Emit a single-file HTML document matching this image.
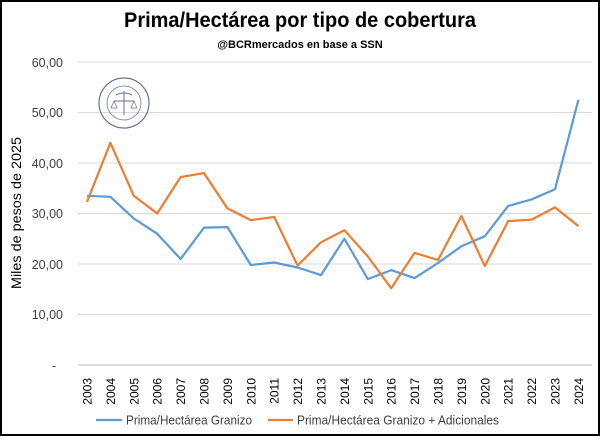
<!DOCTYPE html>
<html><head><style>
body{margin:0;width:600px;height:436px;overflow:hidden;background:#fff}
</style></head><body>
<svg width="600" height="436" xmlns="http://www.w3.org/2000/svg" font-family="Liberation Sans, sans-serif">
<rect x="1" y="1" width="598" height="434" fill="#fff" stroke="#000" stroke-width="2"/>
<text x="300" y="27" text-anchor="middle" font-size="21" font-weight="bold" textLength="352" lengthAdjust="spacingAndGlyphs">Prima/Hectárea por tipo de cobertura</text>
<text x="300" y="48" text-anchor="middle" font-size="11" font-weight="bold">@BCRmercados en base a SSN</text>
<g stroke="#d9d9d9" stroke-width="1">
<line x1="78" x2="592" y1="62" y2="62"/><line x1="78" x2="592" y1="112.5" y2="112.5"/><line x1="78" x2="592" y1="163" y2="163"/><line x1="78" x2="592" y1="213.5" y2="213.5"/><line x1="78" x2="592" y1="264" y2="264"/><line x1="78" x2="592" y1="314.5" y2="314.5"/>
</g>
<line x1="78" x2="592" y1="365" y2="365" stroke="#bfbfbf"/>
<g font-size="12.5" fill="#404040" text-anchor="end">
<text x="63" y="67">60,00</text><text x="63" y="117">50,00</text><text x="63" y="168">40,00</text><text x="63" y="218">30,00</text><text x="63" y="269">20,00</text><text x="63" y="319">10,00</text><text x="56" y="370">-</text>
</g>
<text transform="translate(21,213) rotate(-90)" text-anchor="middle" font-size="13.5" font-weight="500" fill="#000" textLength="152" lengthAdjust="spacingAndGlyphs">Miles de pesos de 2025</text>
<g transform="translate(124,103)" fill="none" stroke="#6b7390">
<circle r="25" stroke-width="1.2"/><circle r="17" stroke-width="0.8"/>
<line x1="0" y1="-12" x2="0" y2="12"/><line x1="-10" y1="-2" x2="10" y2="-2"/>
<path d="M-10 -2 l-3 7 h6 z M10 -2 l-3 7 h6 z" stroke-width="0.7"/>
<path d="M-8 -8 q8 -4 16 0" />
</g>
<g font-size="12" fill="#000" text-anchor="end">
<text transform="translate(91.5,378) rotate(-90)">2003</text><text transform="translate(114.9,378) rotate(-90)">2004</text><text transform="translate(138.3,378) rotate(-90)">2005</text><text transform="translate(161.7,378) rotate(-90)">2006</text><text transform="translate(185.1,378) rotate(-90)">2007</text><text transform="translate(208.5,378) rotate(-90)">2008</text><text transform="translate(231.9,378) rotate(-90)">2009</text><text transform="translate(255.3,378) rotate(-90)">2010</text><text transform="translate(278.7,378) rotate(-90)">2011</text><text transform="translate(302.1,378) rotate(-90)">2012</text><text transform="translate(325.5,378) rotate(-90)">2013</text><text transform="translate(348.9,378) rotate(-90)">2014</text><text transform="translate(372.3,378) rotate(-90)">2015</text><text transform="translate(395.7,378) rotate(-90)">2016</text><text transform="translate(419.1,378) rotate(-90)">2017</text><text transform="translate(442.5,378) rotate(-90)">2018</text><text transform="translate(465.9,378) rotate(-90)">2019</text><text transform="translate(489.3,378) rotate(-90)">2020</text><text transform="translate(512.7,378) rotate(-90)">2021</text><text transform="translate(536.1,378) rotate(-90)">2022</text><text transform="translate(559.5,378) rotate(-90)">2023</text><text transform="translate(582.9,378) rotate(-90)">2024</text>
</g>
<polyline fill="none" stroke="#5b9bd5" stroke-width="2.2" stroke-linejoin="round" points="87,195.8 110.4,196.8 133.8,218.5 157.2,233.7 180.6,259 204,227.6 227.4,227.1 250.8,265 274.2,262.5 297.6,267.5 321,275.1 344.4,238.7 367.8,279.1 391.2,270.1 414.6,278.1 438,263 461.4,246.3 484.8,236.2 508.2,205.9 531.6,199.4 555,189.3 578.4,99.9"/>
<polyline fill="none" stroke="#ed7d31" stroke-width="2.2" stroke-linejoin="round" points="87,201.9 110.4,142.8 133.8,195.8 157.2,213.5 180.6,177.1 204,173.1 227.4,208.4 250.8,220.1 274.2,217 297.6,265.5 321,242.3 344.4,230.2 367.8,256.4 391.2,288.2 414.6,252.9 438,260 461.4,216 484.8,266 508.2,221.1 531.6,219.6 555,207.4 578.4,226.1"/>
<line x1="96" x2="122" y1="420" y2="420" stroke="#5b9bd5" stroke-width="2.2"/>
<text x="126" y="424.5" font-size="12.5" fill="#404040" textLength="126" lengthAdjust="spacingAndGlyphs">Prima/Hectárea Granizo</text>
<line x1="268" x2="293" y1="420" y2="420" stroke="#ed7d31" stroke-width="2.2"/>
<text x="297" y="424.5" font-size="12.5" fill="#404040" textLength="202" lengthAdjust="spacingAndGlyphs">Prima/Hectárea Granizo + Adicionales</text>
</svg>
</body></html>
